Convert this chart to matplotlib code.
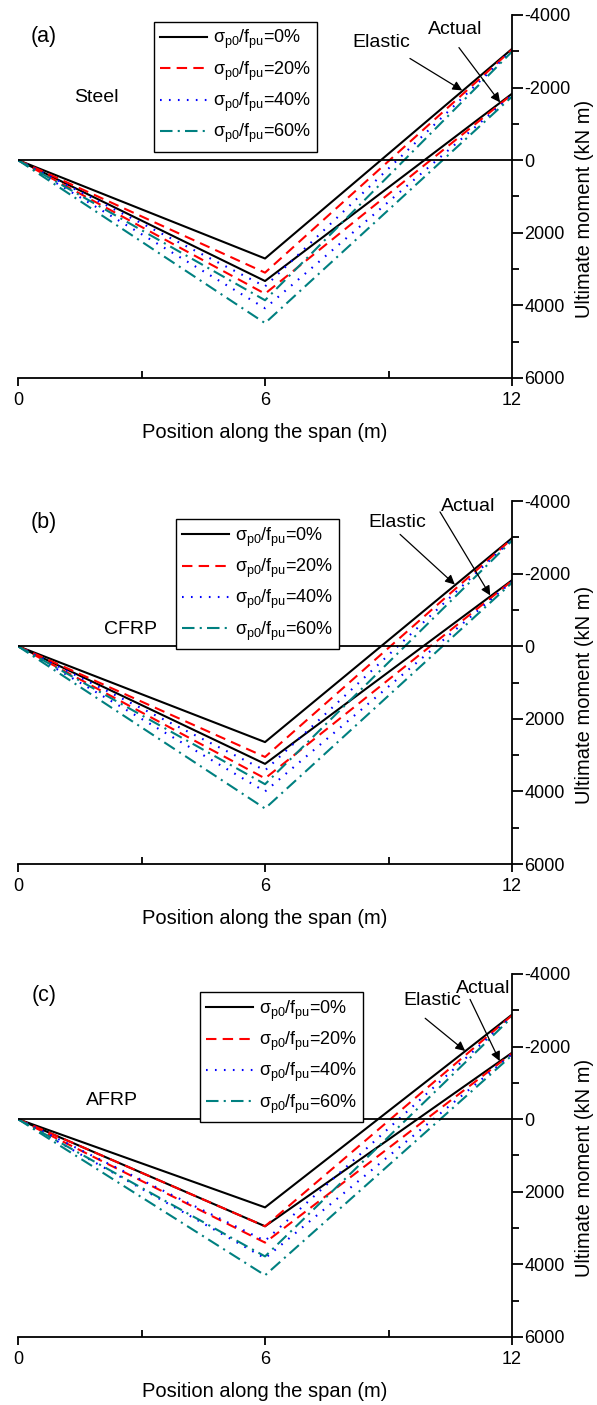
import matplotlib
matplotlib.use("Agg")
import matplotlib.pyplot as plt
from matplotlib.ticker import MultipleLocator

plt.rcParams['font.family'] = ['Liberation Sans', 'DejaVu Sans']
plt.rcParams['mathtext.fontset'] = 'custom'
plt.rcParams['mathtext.rm'] = 'Liberation Sans'
plt.rcParams['mathtext.it'] = 'Liberation Sans'
plt.rcParams['axes.unicode_minus'] = False

# positions along the span (m)
pos = [0, 6, 12]
ratios = ['0%', '20%', '40%', '60%']

# moments at midspan and at the right support (kN m), one value per prestress ratio
steel_el_mid = [2710, 3100, 3480, 3860]
steel_el_end = [-3065, -3045, -3020, -2990]
steel_ac_mid = [3330, 3680, 4080, 4490]
steel_ac_end = [-1830, -1810, -1785, -1750]

cfrp_el_mid = [2640, 3050, 3420, 3800]
cfrp_el_end = [-2980, -2960, -2940, -2910]
cfrp_ac_mid = [3240, 3640, 4000, 4470]
cfrp_ac_end = [-1820, -1800, -1780, -1750]

afrp_el_mid = [2430, 2950, 3350, 3780]
afrp_el_end = [-2880, -2860, -2840, -2810]
afrp_ac_mid = [2950, 3400, 3830, 4300]
afrp_ac_end = [-1830, -1810, -1790, -1760]

colors = ['black', '#FF0000', '#0000FF', '#008080']
styles = ['-', (0, (5, 3)), (0, (0.8, 3.5)), (0, (6, 2.5, 1, 2.5))]

fig = plt.figure(figsize=(5.97, 14.05), dpi=100)


def panel(rect, tag, mat, el_mid, el_end, ac_mid, ac_end, leg_xy, mat_xy,
          el_txt, ac_txt, el_arrow, ac_arrow):
    ax = fig.add_axes(rect)
    for i in range(4):
        ax.plot(pos, [0, el_mid[i], el_end[i]], color=colors[i], linestyle=styles[i],
                lw=1.5, label=r'$\sigma_{p0}/f_{pu}$=' + ratios[i])
        ax.plot(pos, [0, ac_mid[i], ac_end[i]], color=colors[i], linestyle=styles[i],
                lw=1.5)
    ax.axhline(0, color='black', lw=1.3)
    ax.set_xlim(0, 12)
    ax.set_ylim(6000, -4000)
    for s in ['top', 'left']:
        ax.spines[s].set_visible(False)
    for s in ['bottom', 'right']:
        ax.spines[s].set_linewidth(1.3)
    ax.yaxis.tick_right()
    ax.yaxis.set_label_position('right')
    ax.set_xticks([0, 6, 12])
    ax.xaxis.set_minor_locator(MultipleLocator(3))
    ax.yaxis.set_major_locator(MultipleLocator(2000))
    ax.yaxis.set_minor_locator(MultipleLocator(1000))
    ax.tick_params(axis='y', which='major', direction='out', length=8, width=1.3,
                   labelsize=13, pad=1)
    ax.tick_params(axis='y', which='minor', direction='out', length=5, width=1.3)
    ax.tick_params(axis='x', which='major', direction='out', length=6, width=1.3,
                   labelsize=13, pad=4)
    ax.tick_params(axis='x', which='minor', direction='in', length=5, width=1.3)
    ax.set_xlabel('Position along the span (m)', fontsize=14.5, labelpad=10)
    ax.set_ylabel('Ultimate moment (kN m)', fontsize=14.5)
    ax.yaxis.set_label_coords(1.127, 0.466)
    ax.text(0.63, -3400, tag, fontsize=15.5, ha='center', va='center')
    ax.text(mat_xy[0], mat_xy[1], mat, fontsize=14, ha='center', va='center')
    ax.text(el_txt[0], el_txt[1], 'Elastic', fontsize=14, ha='center', va='center')
    ax.text(ac_txt[0], ac_txt[1], 'Actual', fontsize=14, ha='center', va='center')
    for tail, head in [el_arrow, ac_arrow]:
        ax.annotate('', xy=head, xytext=tail,
                    arrowprops=dict(arrowstyle='-|>', color='black', lw=0.9,
                                    mutation_scale=14, shrinkA=0, shrinkB=0))
    leg = ax.legend(loc='upper left', bbox_to_anchor=leg_xy, fontsize=13,
                    frameon=True, fancybox=False, framealpha=1, edgecolor='black',
                    handlelength=2.6, handletextpad=0.3, labelspacing=0.45,
                    borderpad=0.35, borderaxespad=0)
    leg.get_frame().set_linewidth(1.0)
    return ax


panel([0.0302, 0.7310, 0.8275, 0.2584], '(a)', 'Steel',
      steel_el_mid, steel_el_end, steel_ac_mid, steel_ac_end,
      (0.275, 0.981), (1.9, -1725),
      (8.82, -3250), (10.62, -3600),
      ((9.52, -2800), (10.79, -1920)), ((10.71, -3100), (11.71, -1590)))

panel([0.0302, 0.3850, 0.8275, 0.2584], '(b)', 'CFRP',
      cfrp_el_mid, cfrp_el_end, cfrp_ac_mid, cfrp_ac_end,
      (0.32, 0.95), (2.72, -470),
      (9.2, -3400), (10.93, -3850),
      ((9.28, -3081), (10.61, -1700)), ((10.25, -3700), (11.47, -1400)))

panel([0.0302, 0.0484, 0.8275, 0.2584], '(c)', 'AFRP',
      afrp_el_mid, afrp_el_end, afrp_ac_mid, afrp_ac_end,
      (0.368, 0.95), (2.28, -520),
      (10.06, -3270), (11.3, -3600),
      ((9.89, -2779), (10.86, -1880)), ((10.98, -3300), (11.7, -1600)))

fig.savefig('out.png', dpi=100)
